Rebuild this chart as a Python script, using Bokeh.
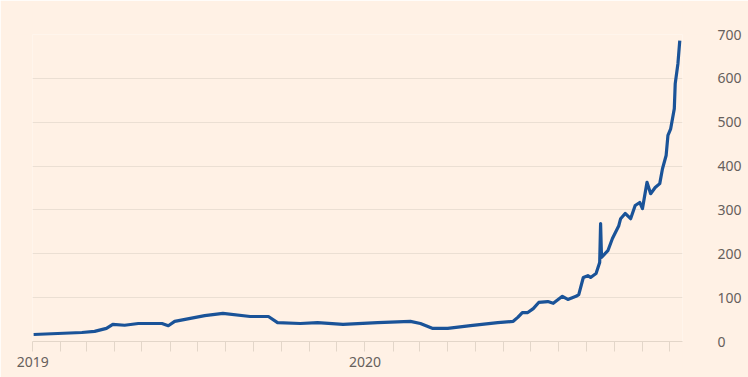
import pandas as pd
from bokeh.plotting import figure
from bokeh.models import Range1d, MonthsTicker, CustomJSTickFormatter, FixedTicker
from bokeh.embed import file_html
from bokeh.resources import INLINE

dates = [
    "2019-01-02", "2019-02-24", "2019-03-10", "2019-03-23", "2019-03-30",
    "2019-04-12", "2019-04-27", "2019-05-23", "2019-05-30", "2019-06-06",
    "2019-07-09", "2019-07-29", "2019-08-28", "2019-09-17", "2019-09-27",
    "2019-10-22", "2019-11-10", "2019-12-08", "2020-01-15", "2020-02-20",
    "2020-03-02", "2020-03-15", "2020-04-01", "2020-04-26", "2020-05-26",
    "2020-06-12", "2020-06-17", "2020-06-22", "2020-06-28", "2020-07-04",
    "2020-07-10", "2020-07-20", "2020-07-26", "2020-08-05", "2020-08-11",
    "2020-08-20", "2020-08-23", "2020-08-28", "2020-09-02", "2020-09-05",
    "2020-09-11", "2020-09-15", "2020-09-16", "2020-09-17", "2020-09-24",
    "2020-09-29", "2020-10-06", "2020-10-08", "2020-10-13", "2020-10-19",
    "2020-10-24", "2020-10-29", "2020-11-01", "2020-11-06", "2020-11-10",
    "2020-11-15", "2020-11-20", "2020-11-23", "2020-11-27", "2020-11-29",
    "2020-12-02", "2020-12-06", "2020-12-07", "2020-12-10", "2020-12-12",
]
values = [
    16, 20.5, 23, 30, 39,
    37, 41, 41, 36, 46,
    59, 64, 57, 57, 43,
    41, 43, 39, 43, 46,
    41, 30, 30, 36, 43,
    46, 55, 66, 66, 75,
    89, 91, 87, 103, 96,
    103, 107, 146, 150, 146,
    155, 180, 269, 192, 207,
    235, 264, 280, 292, 280,
    310, 317, 303, 363, 337,
    351, 360, 394, 424, 470,
    485, 531, 588, 634, 686,
]
y_ticks = [0, 100, 200, 300, 400, 500, 600, 700]

BG = "#FFF1E5"
GRID = "#EBDFD3"
TICK = "#E3D6C9"
TEXT = "#66605C"
LINE = "#1A5398"

x = pd.to_datetime(dates)

p = figure(width=748, height=377, x_axis_type="datetime",
           output_backend="svg", toolbar_location=None,
           y_axis_location="right",
           x_range=Range1d(pd.Timestamp("2018-12-31 18:00"), pd.Timestamp("2020-12-15")),
           y_range=Range1d(0, 700),
           min_border_left=32, min_border_right=66,
           min_border_top=34, min_border_bottom=36)
p.background_fill_color = BG
p.border_fill_color = BG
p.outline_line_color = None

p.line(x, values, line_color=LINE, line_width=3.2, line_join="round")

p.xgrid.grid_line_color = None
p.ygrid.grid_line_color = GRID
p.ygrid.grid_line_width = 1
p.ygrid.ticker = FixedTicker(ticks=y_ticks)

xa = p.xaxis[0]
xa.ticker = MonthsTicker(months=list(range(1, 13)))
xa.formatter = CustomJSTickFormatter(code="""
const d = new Date(tick);
return d.getUTCMonth() == 0 ? String(d.getUTCFullYear()) : '';
""")
xa.axis_line_color = TICK
xa.major_tick_line_color = TICK
xa.major_tick_out = 10
xa.major_tick_in = 0
xa.minor_tick_line_color = None
xa.major_label_text_font = "Noto Sans"
xa.major_label_text_font_size = "14px"
xa.major_label_text_color = TEXT
xa.major_label_standoff = 5

ya = p.yaxis[0]
ya.ticker = FixedTicker(ticks=y_ticks)
ya.axis_line_color = None
ya.major_tick_line_color = None
ya.minor_tick_line_color = None
ya.major_label_text_font = "Noto Sans"
ya.major_label_text_font_size = "14px"
ya.major_label_text_color = TEXT
ya.major_label_text_align = "right"
ya.major_label_standoff = 29

open("out.html", "w").write(file_html(p, INLINE))
